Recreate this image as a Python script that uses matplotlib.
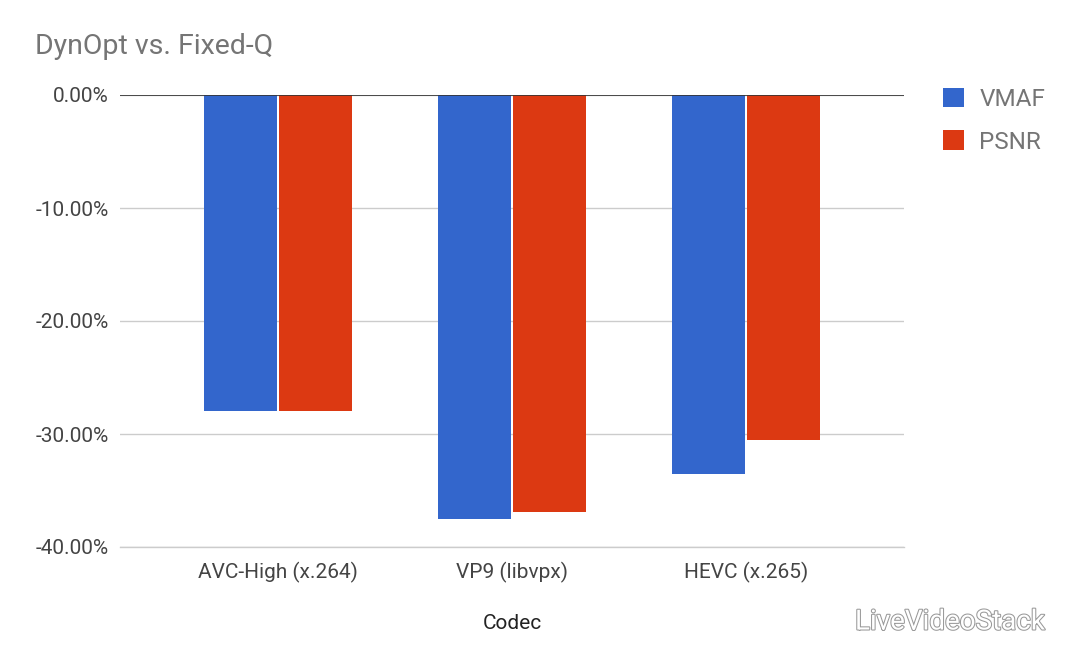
import matplotlib
matplotlib.use("Agg")
import matplotlib.pyplot as plt
import matplotlib.patheffects as pe
import numpy as np

categories = ["AVC-High (x.264)", "VP9 (libvpx)", "HEVC (x.265)"]
vmaf = [-28.0, -37.5, -33.5]
psnr = [-28.0, -36.9, -30.5]
yticks = [0, -10, -20, -30, -40]

plt.rcParams['font.family'] = ['Roboto', 'DejaVu Sans']

fig = plt.figure(figsize=(10.8, 6.68), dpi=100)
ax = fig.add_axes([120/1080, 1-547/668, (904-120)/1080, (547-95)/668])

x = np.arange(len(categories))
w = 0.312
gap = 0.004
ax.bar(x - w/2 - gap, vmaf, width=w, color="#3366CC", label="VMAF", zorder=3)
ax.bar(x + w/2 + gap, psnr, width=w, color="#DC3912", label="PSNR", zorder=3)

ax.set_xlim(-0.675, 2.675)
ax.set_ylim(-40, 0)
ax.set_yticks(yticks)
ax.set_yticklabels([f"{v:.2f}%" for v in yticks])
ax.set_xticks(x)
ax.set_xticklabels(categories)
ax.tick_params(axis='both', length=0, labelsize=15, colors="#444444")
ax.tick_params(axis='y', pad=8)
ax.tick_params(axis='x', pad=11)
for lbl in ax.get_yticklabels() + ax.get_xticklabels():
    lbl.set_color("#444444")

ax.grid(axis='y', color="#cccccc", linewidth=1, zorder=0)
for s in ax.spines.values():
    s.set_visible(False)
ax.axhline(0, color="#333333", linewidth=1.2, zorder=4)
ax.axhline(-40, color="#cccccc", linewidth=1, zorder=2, clip_on=False)

ax.set_xlabel("Codec", fontsize=15, color="#222222", labelpad=22)

fig.text(35/1080, 1-47/668, "DynOpt vs. Fixed-Q", fontsize=20.5, color="#757575",
         va='center', ha='left')

leg = fig.legend(loc='upper left', bbox_to_anchor=(921/1080, 1-66/668),
                 frameon=False, fontsize=17.5, handlelength=0.85, handleheight=0.85,
                 labelspacing=0.8, handletextpad=0.65)
for t in leg.get_texts():
    t.set_color("#757575")

fig.text(855/1080, 1-622/668, "LiveVideoStack", fontsize=20, color="white",
         va='center', ha='left',
         path_effects=[pe.withStroke(linewidth=1.5, foreground="#999999")])

fig.savefig("out.png", dpi=100, facecolor="white")
